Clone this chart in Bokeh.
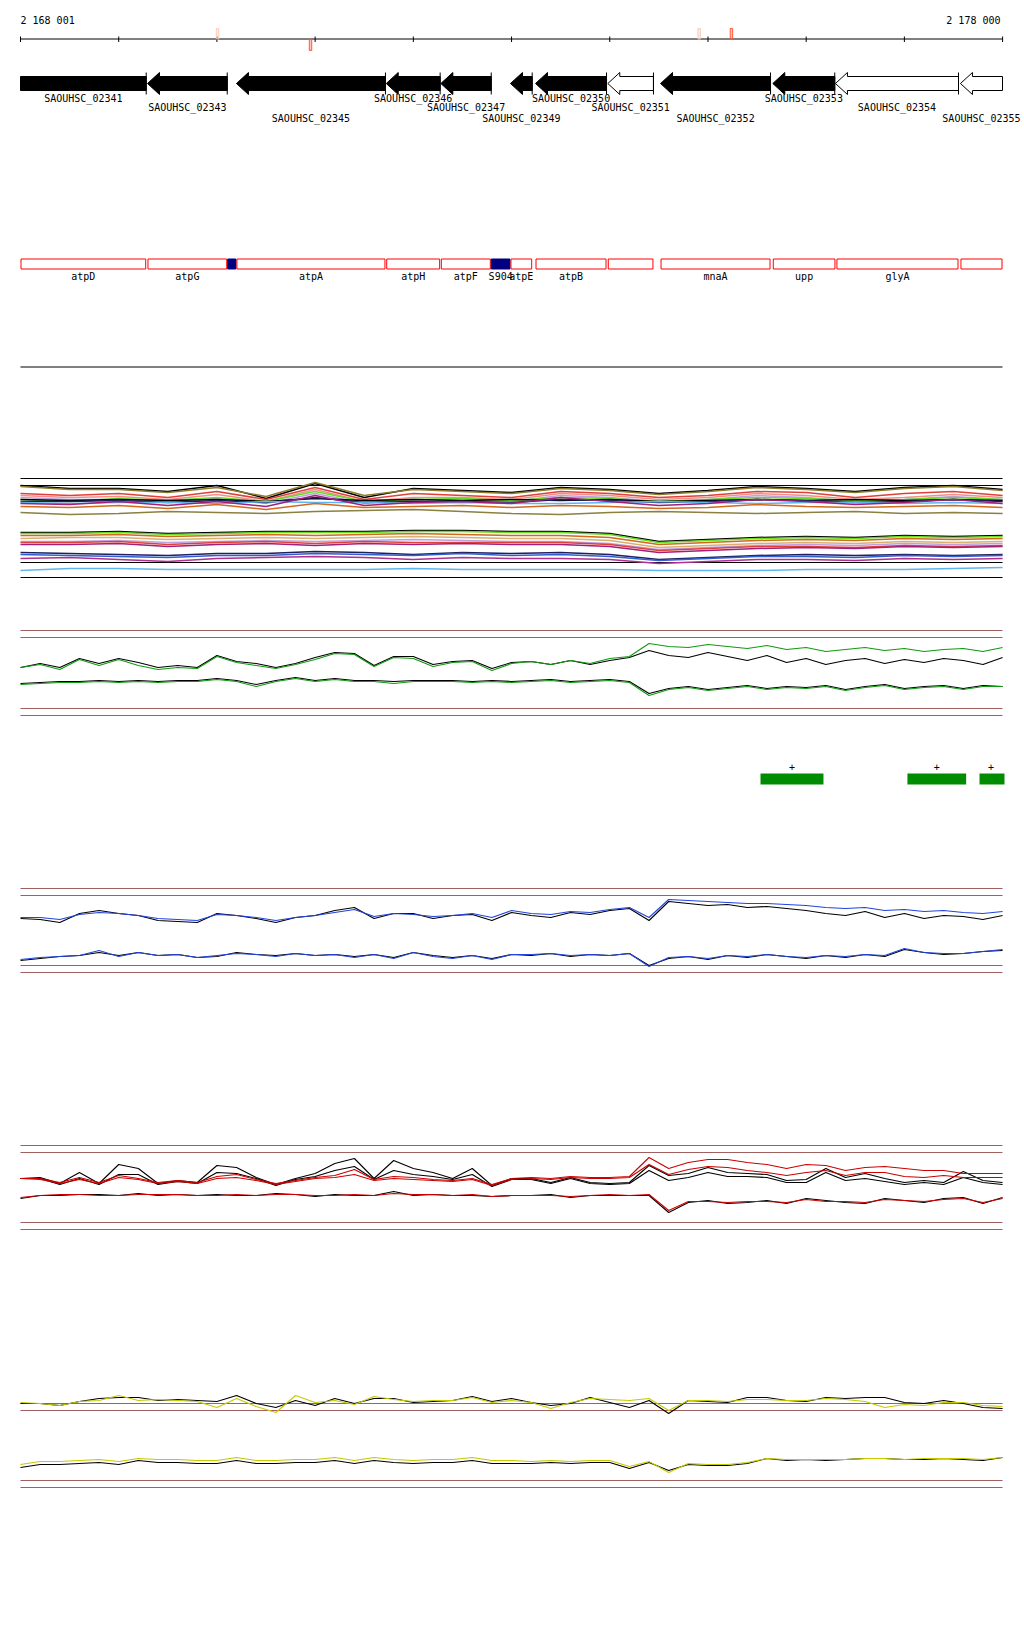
from bokeh.plotting import figure
from bokeh.models import Range1d
from bokeh.layouts import column
from bokeh.embed import file_html
from bokeh.resources import INLINE
from bokeh.core.properties import value

# ---------------- data ----------------
WIN_START, WIN_END = 2168001, 2178000
RULER_LABELS = ["2 168 001", "2 178 000"]
RULER_TICKS = list(range(2168001, 2178002, 1000))

variant_pos = [2170007, 2170954, 2174911, 2175240]
variant_strand = ["+", "-", "+", "+"]
variant_af = [0.1, 0.7, 0.1, 0.7]

gene_names = ["SAOUHSC_02341", "SAOUHSC_02343", "SAOUHSC_02345", "SAOUHSC_02346",
              "SAOUHSC_02347", "SAOUHSC_02349", "SAOUHSC_02350", "SAOUHSC_02351",
              "SAOUHSC_02352", "SAOUHSC_02353", "SAOUHSC_02354", "SAOUHSC_02355"]
gene_start = [2167620, 2169294, 2170200, 2171725, 2172281, 2172990, 2173245, 2173981,
              2174518, 2175661, 2176299, 2177572]
gene_end = [2169281, 2170106, 2171717, 2172274, 2172794, 2173211, 2173968, 2174446,
            2175638, 2176292, 2177552, 2178300]
gene_essential = [True, True, True, True, True, True, True, False, True, True, False, False]

feat_names = ["atpD", "atpG", "", "atpA", "atpH", "atpF", "S904", "atpE", "atpB", "",
              "mnaA", "upp", "glyA", ""]
feat_start = [2167620, 2169294, 2170106, 2170200, 2171725, 2172281, 2172790, 2172990,
              2173245, 2173981, 2174518, 2175661, 2176309, 2177572]
feat_end = [2169281, 2170106, 2170200, 2171717, 2172274, 2172790, 2172990, 2173211,
            2173968, 2174446, 2175638, 2176299, 2177552, 2178300]
feat_type = ["CDS", "CDS", "ncRNA", "CDS", "CDS", "CDS", "ncRNA", "CDS", "CDS", "CDS",
             "CDS", "CDS", "CDS", "CDS"]

peak_start = [2175536, 2177032, 2177766]
peak_end = [2176177, 2177630, 2178200]
peak_strand = ["+", "+", "+"]

POS51 = list(range(2168001, 2178002, 200))
POS21 = list(range(2168001, 2178002, 500))

# multi-sample coverage track (upper and lower groups)
multi_upper = {
    "black_top": [92, 89, 89, 86, 92, 79, 94, 80, 89, 87, 85, 90, 88, 84, 87, 91, 89, 86, 90, 92, 88],
    "olive_top": [91, 88, 88, 85, 90, 81, 95, 82, 88, 86, 84, 89, 87, 83, 86, 90, 88, 85, 89, 91, 87],
    "red": [84, 82, 84, 80, 86, 78, 90, 78, 84, 82, 80, 86, 84, 80, 82, 86, 85, 80, 84, 86, 82],
    "salmon": [82, 80, 81, 78, 83, 76, 88, 76, 80, 80, 78, 84, 82, 78, 80, 84, 82, 78, 80, 83, 80],
    "lavender": [80, 78, 78, 76, 79, 74, 84, 74, 78, 77, 76, 82, 80, 76, 78, 82, 80, 76, 78, 81, 78],
    "lime": [78, 76, 79, 77, 80, 76, 86, 76, 78, 79, 77, 80, 79, 76, 78, 80, 79, 77, 78, 80, 78],
    "black_mid": [78, 77, 78, 77, 78, 76, 79, 77, 78, 77, 78, 77, 78, 76, 77, 78, 77, 78, 77, 78, 77],
    "navy": [76, 76, 77, 75, 77, 75, 80, 75, 76, 76, 75, 78, 77, 75, 76, 78, 77, 75, 76, 78, 76],
    "lightblue": [75, 74, 75, 75, 74, 76, 75, 75, 74, 75, 74, 74, 75, 76, 75, 74, 75, 75, 74, 75, 74],
    "purple": [74, 73, 76, 72, 76, 71, 82, 72, 75, 76, 74, 80, 76, 72, 74, 78, 76, 73, 75, 78, 74],
    "orange": [71, 70, 72, 69, 73, 68, 74, 70, 71, 72, 70, 72, 71, 69, 70, 73, 71, 70, 71, 72, 70],
    "olive_low": [65, 63, 64, 66, 65, 64, 66, 67, 68, 66, 64, 63, 65, 66, 65, 64, 65, 66, 64, 65, 64],
}
multi_lower = {
    "black": [45, 45, 46, 44, 45, 46, 46, 46, 47, 47, 46, 46, 44, 36, 38, 40, 41, 40, 42, 41, 42],
    "lime": [44, 44, 45, 43, 44, 45, 45, 45, 46, 46, 45, 45, 43, 35, 37, 39, 40, 39, 41, 40, 41],
    "orange": [42, 42, 43, 41, 42, 43, 42, 43, 44, 43, 42, 42, 40, 33, 35, 37, 38, 37, 39, 38, 39],
    "tan": [39, 40, 40, 38, 39, 40, 39, 40, 41, 40, 39, 39, 37, 30, 32, 34, 35, 34, 36, 35, 36],
    "lavender": [36, 36, 37, 35, 36, 37, 36, 37, 38, 37, 36, 36, 34, 28, 30, 32, 33, 32, 34, 33, 34],
    "red": [35, 35, 36, 33, 35, 36, 34, 36, 35, 35, 35, 35, 33, 27, 29, 31, 31, 30, 32, 31, 32],
    "purple": [33, 33, 34, 31, 33, 34, 32, 34, 33, 34, 33, 33, 31, 25, 27, 29, 30, 29, 31, 30, 31],
    "navy": [25, 24, 23, 22, 24, 24, 26, 25, 23, 25, 24, 25, 23, 18, 20, 22, 23, 22, 23, 22, 23],
    "blue": [23, 22, 21, 20, 22, 22, 24, 23, 22, 24, 22, 23, 21, 17, 19, 21, 21, 20, 22, 21, 22],
    "magenta": [19, 20, 18, 16, 19, 20, 21, 20, 18, 20, 19, 19, 18, 14, 16, 18, 18, 17, 19, 18, 19],
    "lightblue": [7, 9, 9, 8, 8, 8, 8, 8, 9, 8, 8, 8, 8, 7, 7, 7, 8, 8, 8, 9, 10],
}

green_up_ctrl = [48, 52, 48, 57, 52, 57, 53, 48, 50, 48, 60, 54, 52, 48, 52, 58, 63, 62, 50, 59, 59, 51, 54, 55, 47, 53,
                 54, 51, 55, 51, 55, 58, 65, 60, 58, 63, 59, 55, 60, 53, 57, 51, 55, 57, 52, 56, 53, 57, 55, 51, 58]
green_up_cond = [48, 51, 46, 56, 50, 56, 50, 46, 48, 47, 59, 53, 50, 47, 51, 56, 62, 61, 49, 58, 57, 49, 53, 54, 45, 52,
                 54, 51, 55, 52, 57, 59, 72, 69, 68, 71, 69, 67, 70, 66, 68, 64, 66, 68, 65, 67, 64, 66, 67, 64, 68]
green_lo_ctrl = [32, 33, 34, 34, 35, 34, 35, 34, 35, 35, 37, 35, 31, 35, 38, 35, 37, 35, 35, 34, 35, 35, 35, 34, 35, 34,
                 35, 36, 34, 35, 36, 34, 22, 27, 29, 26, 28, 30, 27, 29, 28, 30, 26, 29, 31, 27, 29, 30, 27, 30, 29]
green_lo_cond = [31, 32, 33, 33, 34, 33, 34, 33, 34, 34, 36, 34, 29, 34, 37, 34, 36, 34, 34, 32, 34, 34, 34, 33, 34, 33,
                 34, 35, 33, 34, 35, 33, 20, 26, 28, 25, 27, 29, 26, 28, 27, 29, 25, 28, 30, 26, 28, 29, 26, 29, 29]

blue_up_ctrl = [47, 46, 43, 52, 55, 52, 50, 45, 44, 43, 52, 50, 47, 43, 48, 50, 55, 58, 47, 52, 52, 47, 50, 51, 45, 53,
                50, 48, 53, 51, 55, 57, 45, 64, 62, 60, 61, 58, 59, 57, 55, 52, 50, 54, 48, 52, 47, 50, 49, 46, 50]
blue_up_cond = [48, 48, 46, 51, 53, 52, 50, 47, 46, 45, 51, 50, 48, 45, 48, 50, 53, 56, 49, 52, 51, 49, 50, 52, 48, 55,
                52, 51, 54, 53, 56, 58, 48, 66, 65, 64, 63, 62, 62, 61, 60, 58, 57, 58, 55, 56, 54, 55, 53, 52, 54]
blue_lo_ctrl = [5, 7, 9, 10, 13, 10, 13, 10, 11, 8, 9, 13, 11, 10, 12, 10, 11, 9, 11, 8, 13, 10, 8, 10, 7, 11,
                10, 12, 9, 11, 10, 12, 0, 7, 9, 6, 10, 8, 11, 9, 7, 10, 8, 11, 9, 16, 13, 11, 12, 14, 15]
blue_lo_cond = [6, 8, 9, 10, 15, 9, 13, 10, 11, 8, 10, 12, 11, 9, 12, 10, 11, 8, 11, 7, 13, 9, 7, 10, 6, 11,
                11, 12, 10, 11, 10, 12, -1, 8, 9, 7, 10, 9, 11, 9, 8, 10, 9, 11, 10, 17, 13, 12, 12, 14, 16]

red_up_ctrl1 = [44, 45, 39, 50, 39, 58, 54, 39, 42, 40, 57, 55, 45, 38, 44, 49, 59, 64, 44, 62, 54, 50, 44, 54, 37, 44,
                44, 40, 45, 40, 39, 40, 57, 47, 49, 55, 50, 49, 48, 42, 43, 54, 45, 49, 44, 40, 42, 40, 51, 42, 40]
red_up_ctrl2 = [44, 44, 38, 44, 38, 48, 48, 38, 41, 39, 50, 49, 44, 37, 43, 46, 52, 56, 43, 52, 48, 46, 43, 48, 36, 43,
                43, 39, 44, 39, 38, 39, 52, 42, 45, 50, 46, 46, 45, 40, 40, 50, 42, 44, 41, 38, 40, 38, 45, 40, 38]
red_up_cond1 = [44, 44, 40, 45, 40, 47, 44, 40, 42, 40, 46, 48, 43, 39, 42, 45, 47, 53, 43, 46, 45, 43, 42, 44, 38, 44,
                45, 44, 46, 45, 45, 46, 65, 54, 60, 63, 63, 60, 58, 54, 58, 57, 52, 55, 56, 54, 52, 52, 49, 49, 49]
red_up_cond2 = [44, 43, 39, 43, 39, 45, 43, 39, 41, 39, 44, 45, 42, 38, 41, 44, 45, 48, 42, 44, 43, 42, 41, 43, 37, 43,
                44, 43, 45, 44, 44, 45, 58, 48, 53, 56, 55, 52, 50, 47, 50, 52, 47, 50, 50, 46, 45, 47, 45, 45, 45]
red_lo_ctrl = [24, 27, 27, 28, 28, 27, 29, 27, 28, 27, 28, 27, 27, 29, 28, 26, 28, 27, 27, 31, 27, 28, 27, 27, 26, 27,
               27, 28, 25, 27, 27, 27, 27, 10, 20, 22, 19, 20, 22, 19, 24, 22, 20, 19, 24, 22, 20, 24, 25, 19, 25]
red_lo_cond = [25, 27, 28, 28, 27, 27, 28, 28, 28, 27, 27, 28, 27, 28, 28, 27, 27, 28, 27, 29, 28, 28, 27, 28, 26, 27,
               27, 27, 26, 27, 28, 27, 28, 12, 21, 21, 20, 21, 21, 20, 23, 21, 21, 20, 23, 22, 21, 23, 24, 20, 24]

yel_up_ctrl = [77, 77, 75, 79, 82, 83, 83, 80, 81, 80, 79, 85, 77, 73, 80, 75, 82, 77, 82, 82, 78, 79, 80, 84, 79, 82,
               78, 75, 77, 83, 78, 73, 80, 67, 80, 79, 78, 83, 83, 80, 79, 83, 82, 83, 83, 78, 77, 80, 77, 73, 72]
yel_up_cond = [78, 77, 75, 79, 80, 85, 80, 81, 80, 79, 73, 82, 74, 68, 85, 78, 80, 76, 84, 81, 79, 80, 80, 83, 78, 80,
               78, 72, 78, 82, 81, 80, 82, 70, 80, 80, 79, 81, 81, 80, 80, 82, 81, 79, 73, 76, 75, 78, 78, 75, 74]
yel_lo_ctrl = [13, 16, 16, 17, 18, 16, 20, 18, 18, 17, 17, 20, 17, 17, 18, 18, 20, 17, 20, 18, 17, 18, 18, 20, 17, 17,
               17, 18, 17, 18, 18, 12, 18, 10, 16, 15, 15, 17, 22, 20, 21, 20, 21, 22, 22, 21, 21, 22, 21, 20, 23]
yel_lo_cond = [16, 19, 19, 20, 21, 19, 22, 21, 21, 20, 20, 23, 20, 20, 21, 21, 23, 20, 23, 21, 20, 21, 21, 23, 20, 20,
               19, 20, 19, 20, 20, 14, 19, 8, 17, 16, 16, 18, 22, 21, 21, 21, 21, 22, 22, 21, 22, 22, 22, 21, 23]

# ---------------- styling ----------------
MULTI_COLORS = {"black_top": "#000000", "olive_top": "#8b7b2b", "red": "#e0403a", "salmon": "#f0908a",
                "lavender": "#c0a0e0", "lime": "#66dd22", "black_mid": "#000000", "navy": "#202060",
                "lightblue": "#5fb6ef", "purple": "#a0207a", "orange": "#d2691e", "olive_low": "#8b8040",
                "black": "#000000", "tan": "#d8b070", "blue": "#3060d0", "magenta": "#b03090"}
REF_COLOR = "#a0605e"
FONT = value("DejaVu Sans Mono")
W = 1024
BP_PER_PX = (WIN_END - WIN_START) / 982.0
X_RANGE = Range1d(WIN_START - 20 * BP_PER_PX, WIN_END + 22 * BP_PER_PX)


def make_fig(h, y_start, y_end):
    p = figure(width=W, height=h, x_range=X_RANGE, y_range=Range1d(y_start, y_end),
               output_backend="svg", toolbar_location=None, min_border=0,
               x_axis_location=None, y_axis_location=None)
    p.grid.visible = False
    p.outline_line_color = None
    p.background_fill_color = "white"
    p.border_fill_color = "white"
    return p


def clip(a, b):
    return max(a, WIN_START), min(b, WIN_END)


# ---------------- figure A: ruler, genes, features ----------------
pa = make_fig(380, 380, 0)
pa.text(x=[WIN_START], y=[20], text=[RULER_LABELS[0]], text_font=FONT, text_font_size="10px",
        text_align="left", text_baseline="middle", text_color="black")
pa.text(x=[WIN_END - 2 * BP_PER_PX], y=[20], text=[RULER_LABELS[1]], text_font=FONT, text_font_size="10px",
        text_align="right", text_baseline="middle", text_color="black")
pa.segment(x0=[WIN_START], y0=[38.5], x1=[WIN_END], y1=[38.5], line_color="black", line_width=1)
pa.segment(x0=RULER_TICKS, y0=[36] * len(RULER_TICKS), x1=RULER_TICKS, y1=[41.5] * len(RULER_TICKS),
           line_color="black", line_width=1)

vx0 = [v - 1.2 * BP_PER_PX for v in variant_pos]
vx1 = [v + 1.2 * BP_PER_PX for v in variant_pos]
vtop = [28 if s == "+" else 38.5 for s in variant_strand]
vbot = [38.5 if s == "+" else 50 for s in variant_strand]
vcol = ["#ff5a3c" if af > 0.5 else "#f6cdbd" for af in variant_af]
pa.quad(left=vx0, right=vx1, top=vtop, bottom=vbot, fill_color=vcol, fill_alpha=0.35,
        line_color=vcol, line_width=1)

HEAD = 12 * BP_PER_PX
YM, BH, HH = 83, 7, 11
gxs, gys, gfill, bars, lab_x, lab_y = [], [], [], [], [], []
ROWS = [97.5, 107, 117.5]
for i, (s, e, ess) in enumerate(zip(gene_start, gene_end, gene_essential)):
    vs, ve = clip(s, e)
    if s >= WIN_START:
        hx = s + HEAD
        xs = [s, hx, hx, ve, ve, hx, hx]
        ys = [YM, YM - HH, YM - BH, YM - BH, YM + BH, YM + BH, YM + HH]
    else:
        xs = [vs, ve, ve, vs]
        ys = [YM - BH, YM - BH, YM + BH, YM + BH]
    gxs.append(xs)
    gys.append(ys)
    gfill.append("black" if ess else "white")
    if e <= WIN_END:
        bars.append(e)
    lab_x.append((vs + ve) / 2)
    lab_y.append(ROWS[i % 3])
pa.patches(xs=gxs, ys=gys, fill_color=gfill, line_color="black", line_width=1)
pa.segment(x0=bars, y0=[YM - HH] * len(bars), x1=bars, y1=[YM + HH] * len(bars),
           line_color="black", line_width=1)
pa.text(x=lab_x, y=lab_y, text=gene_names, text_font=FONT, text_font_size="10px",
        text_align="center", text_baseline="middle", text_color="black")

fl, fr, fcol_fill, fcol_line, flx = [], [], [], [], []
for s, e, t in zip(feat_start, feat_end, feat_type):
    vs, ve = clip(s, e)
    fl.append(vs + 0.5 * BP_PER_PX)
    fr.append(ve - 0.5 * BP_PER_PX)
    fcol_fill.append("#000080" if t == "ncRNA" else "white")
    fcol_line.append("#000080" if t == "ncRNA" else "#ff0000")
    flx.append((vs + ve) / 2)
pa.quad(left=fl, right=fr, top=[258.5] * len(fl), bottom=[268.5] * len(fl),
        fill_color=fcol_fill, line_color=fcol_line, line_width=1)
pa.text(x=flx, y=[275.5] * len(flx), text=feat_names, text_font=FONT, text_font_size="10px",
        text_align="center", text_baseline="middle", text_color="black")
pa.segment(x0=[WIN_START], y0=[366.5], x1=[WIN_END], y1=[366.5], line_color="black", line_width=1)

# ---------------- figure B: multi-sample track ----------------
pb = make_fig(220, -23, 197)
for lv in [99, 92, 15, 0]:
    pb.segment(x0=[WIN_START], y0=[lv], x1=[WIN_END], y1=[lv], line_color="black", line_width=1)
for grp in (multi_upper, multi_lower):
    for key, vals in grp.items():
        pb.line(POS21, vals, line_color=MULTI_COLORS[key], line_width=1.5)


# ---------------- signal panels ----------------
def signal_panel(h, y0, y1, refs, series):
    p = make_fig(h, y0, y1)
    for lv in refs:
        p.segment(x0=[WIN_START], y0=[lv], x1=[WIN_END], y1=[lv], line_color=REF_COLOR, line_width=1.2)
    for vals, col in series:
        p.line(POS51, vals, line_color=col, line_width=1.1)
    return p


GREEN, BLUE, RED, YEL = "#109a10", "#2244dd", "#cc0000", "#c8c800"
pc = signal_panel(140, -25, 115, [85, 78, 7, 0],
                  [(green_up_ctrl, "black"), (green_up_cond, GREEN),
                   (green_lo_ctrl, "black"), (green_lo_cond, GREEN)])

pd = make_fig(120, 860, 740)
bl, br, bx = [], [], []
for s, e in zip(peak_start, peak_end):
    vs, ve = clip(s, e)
    bl.append(vs)
    br.append(min(e, WIN_END + 2 * BP_PER_PX))
    bx.append((vs + ve) / 2)
pd.quad(left=bl, right=br, top=[773] * len(bl), bottom=[784] * len(bl), fill_color="#008c00", line_color=None)
pd.text(x=bx, y=[766] * len(bx), text=peak_strand, text_font=FONT, text_font_size="10px",
        text_align="center", text_baseline="middle", text_color="black")

pe = signal_panel(260, -155, 105, [77, 70, 0, -7],
                  [(blue_up_ctrl, "black"), (blue_up_cond, BLUE),
                   (blue_lo_ctrl, "black"), (blue_lo_cond, BLUE)])
pg = signal_panel(260, -158, 102, [77, 70, 0, -7],
                  [(red_up_ctrl1, "black"), (red_up_ctrl2, "black"), (red_up_cond1, RED), (red_up_cond2, RED),
                   (red_lo_ctrl, "black"), (red_lo_cond, RED)])
pi = signal_panel(140, -40, 100, [77, 70, 0, -7],
                  [(yel_up_ctrl, "black"), (yel_up_cond, YEL),
                   (yel_lo_ctrl, "black"), (yel_lo_cond, YEL)])

layout = column(pa, pb, pc, pd, pe, pg, pi, spacing=0)
open("out.html", "w").write(file_html(layout, INLINE))
